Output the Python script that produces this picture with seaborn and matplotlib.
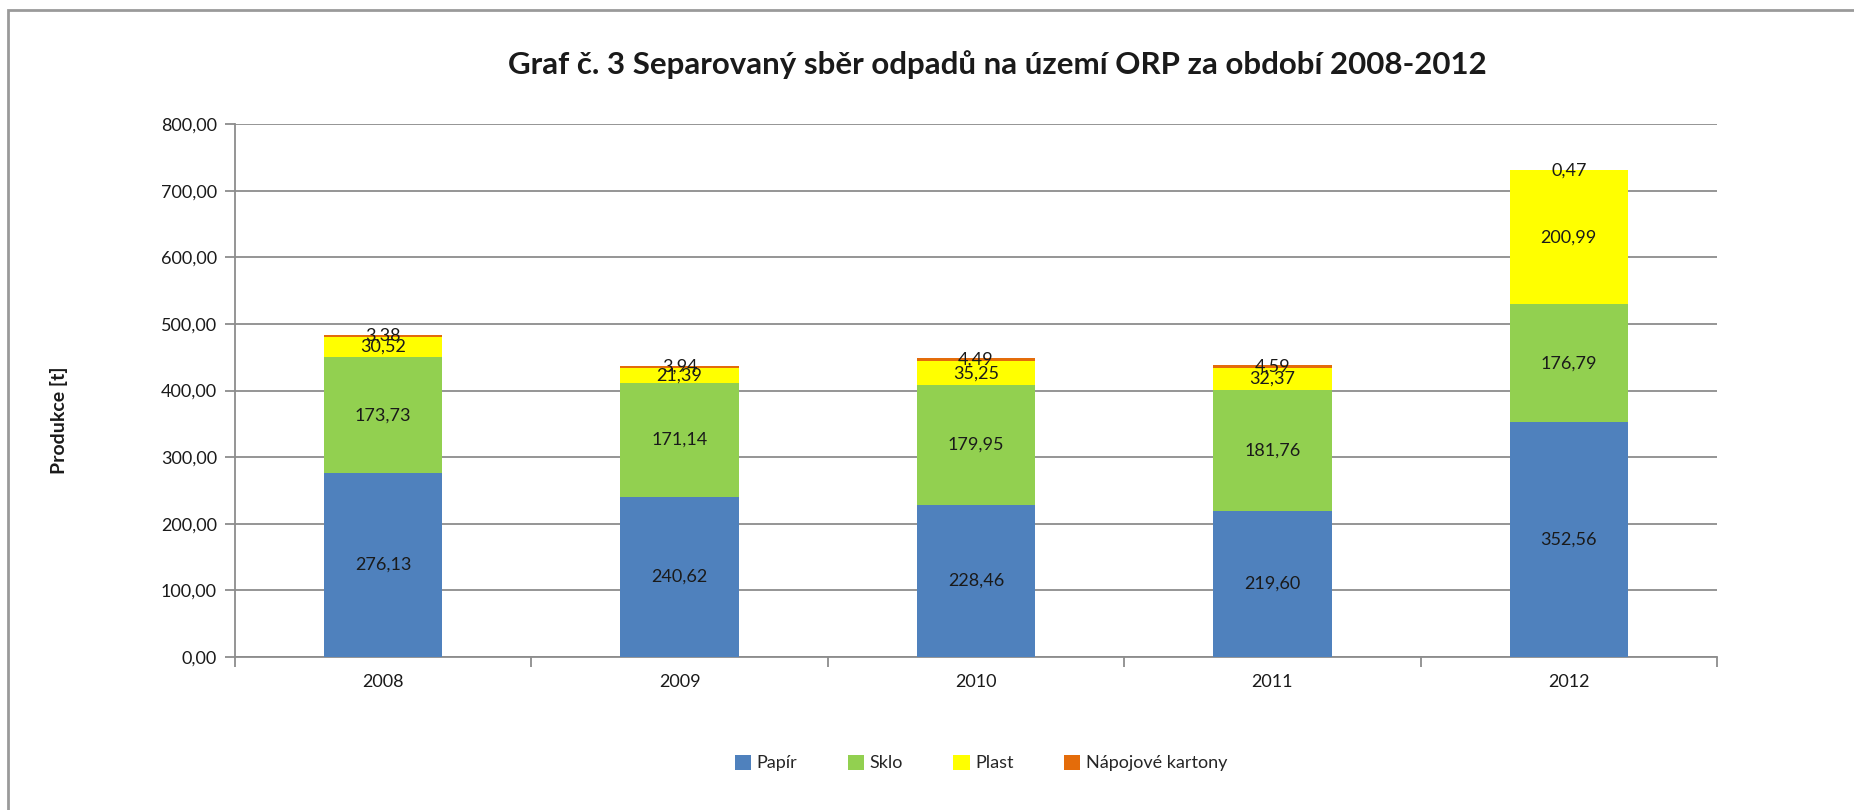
import numpy as np
import pandas as pd
import matplotlib
matplotlib.use("Agg")
import matplotlib.pyplot as plt
import seaborn as sns
from matplotlib.patches import Patch, Rectangle
from matplotlib.ticker import FuncFormatter, FixedLocator

years = ["2008", "2009", "2010", "2011", "2012"]
papir = [276.13, 240.62, 228.46, 219.60, 352.56]
sklo = [173.73, 171.14, 179.95, 181.76, 176.79]
plast = [30.52, 21.39, 35.25, 32.37, 200.99]
kartony = [3.38, 3.94, 4.49, 4.59, 0.47]

series = ["Papír", "Sklo", "Plast", "Nápojové kartony"]
colors = ["#4F81BD", "#92D050", "#FFFF00", "#E46C0A"]

df = pd.DataFrame({"rok": years, "Papír": papir, "Sklo": sklo,
                   "Plast": plast, "Nápojové kartony": kartony})
cum = df[series].cumsum(axis=1)

sns.set_theme(style="white")
plt.rcParams["font.family"] = ["Lato", "DejaVu Sans"]

fig = plt.figure(figsize=(18.54, 8.10), dpi=100)
ax = fig.add_axes([235 / 1854, 1 - 657 / 810, (1717 - 235) / 1854, (657 - 124) / 810])

# stacked bars: draw cumulative totals from the top segment down
for name, col in reversed(list(zip(series, colors))):
    sns.barplot(x=df["rok"], y=cum[name], color=col, width=0.4,
                saturation=1, edgecolor="none", linewidth=0, ax=ax, zorder=3)

# segment labels
for i in range(len(years)):
    for name in series:
        v = df.loc[i, name]
        mid = cum.loc[i, name] - v / 2
        ax.text(i, mid, f"{v:.2f}".replace(".", ","), ha="center", va="center",
                fontsize=13, color="#1a1a1a", zorder=5)

ax.set_ylim(0, 800)
ax.set_xlim(-0.5, len(years) - 0.5)
ax.set_yticks(np.arange(0, 801, 100))
ax.yaxis.set_major_formatter(FuncFormatter(lambda v, p: f"{v:.2f}".replace(".", ",")))
ax.yaxis.grid(True, color="#8c8c8c", linewidth=1.3, zorder=0)
ax.set_axisbelow(True)

ax.xaxis.set_minor_locator(FixedLocator(np.arange(-0.5, len(years), 1.0)))
ax.tick_params(axis="x", which="major", length=0, labelsize=13, pad=12, colors="#1a1a1a")
ax.tick_params(axis="x", which="minor", length=7, width=1.3, color="#8c8c8c", direction="out")
ax.tick_params(axis="y", which="major", length=7, width=1.3, color="#8c8c8c",
               direction="out", labelsize=13, pad=6, labelcolor="#1a1a1a")
ax.xaxis.set_tick_params(bottom=True, which="both")
ax.yaxis.set_tick_params(left=True)

for s in ["top", "right"]:
    ax.spines[s].set_visible(False)
for s in ["left", "bottom"]:
    ax.spines[s].set_color("#8c8c8c")
    ax.spines[s].set_linewidth(1.3)

ax.set_xlabel("")
ax.set_ylabel("")
fig.text(59 / 1854, 1 - 420 / 810, "Produkce [t]", rotation=90, ha="center", va="center",
         fontsize=14, fontweight="bold", color="#1a1a1a")

fig.text(997 / 1854, 1 - 65 / 810,
         "Graf č. 3 Separovaný sběr odpadů na území ORP za období 2008-2012",
         ha="center", va="center", fontsize=22.5, fontweight="bold", color="#1a1a1a")

handles = [Patch(facecolor=c, edgecolor="none", label=n) for n, c in zip(series, colors)]
fig.legend(handles=handles, loc="center", bbox_to_anchor=(981 / 1854, 1 - 763 / 810),
           ncol=4, frameon=False, fontsize=13, handlelength=0.9, handleheight=0.9,
           handletextpad=0.3, columnspacing=2.8)

# outer chart frame
fig.patches.append(Rectangle((8 / 1854, -0.2), 1.5, 1.2 - 10 / 810, transform=fig.transFigure,
                             fill=False, edgecolor="#9a9a9a", linewidth=2))

fig.savefig("out.png", dpi=100)
